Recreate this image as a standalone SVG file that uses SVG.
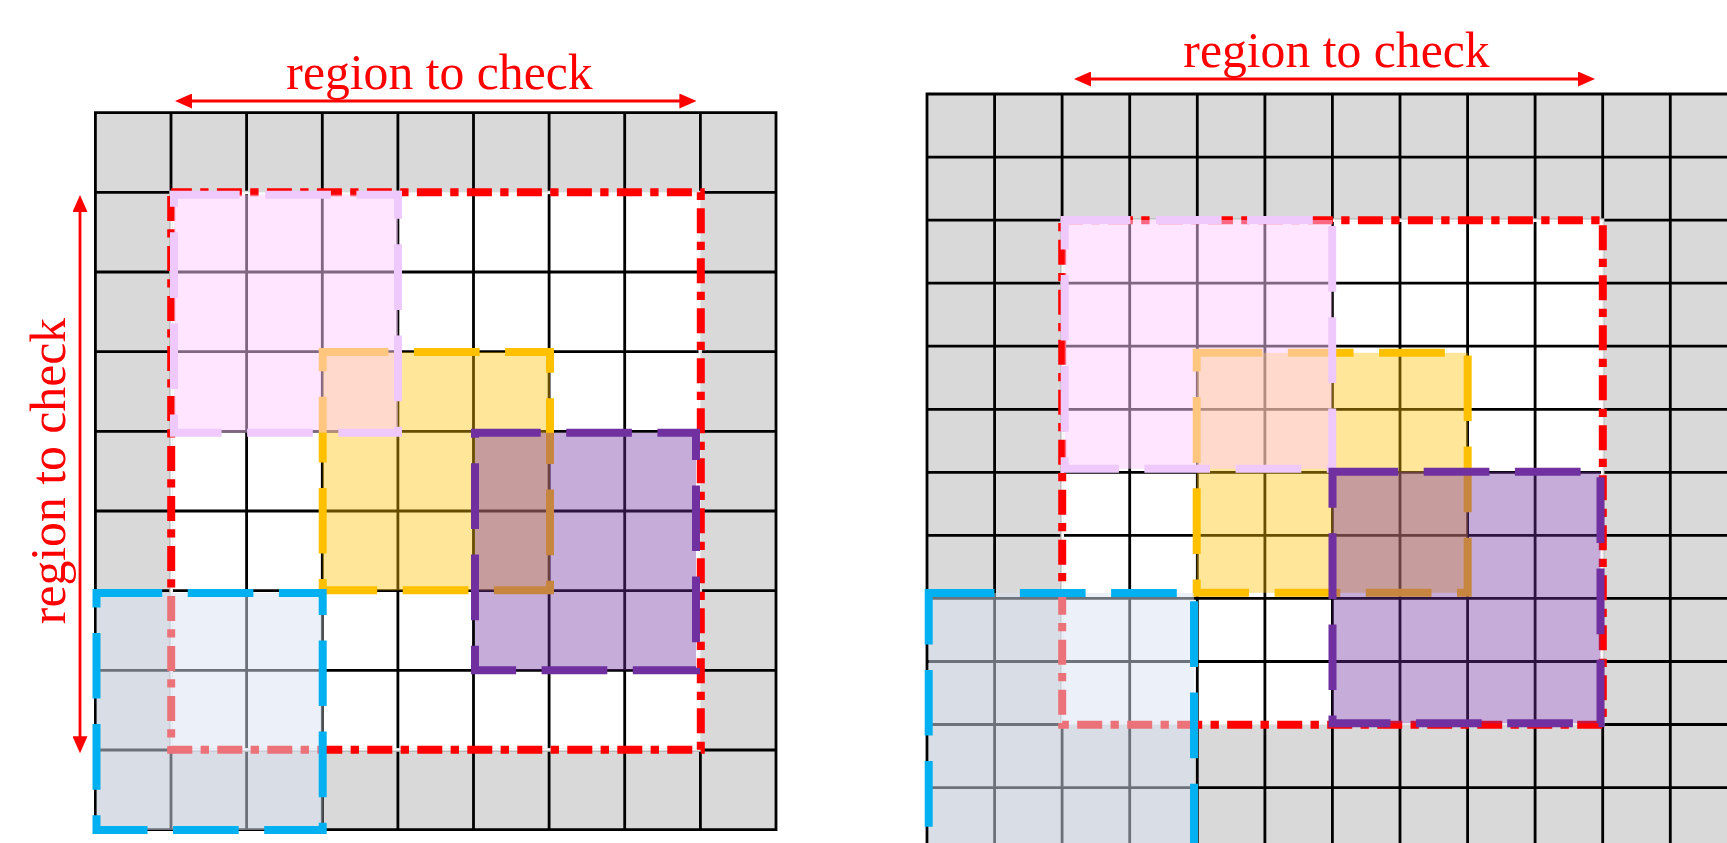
<svg xmlns="http://www.w3.org/2000/svg" width="1727" height="843" viewBox="0 0 1727 843">
  <style>
    .gray { fill: #D9D9D9; }
    .white { fill: #FFFFFF; }
    .gl { fill: none; stroke: #000; stroke-width: 2.8; stroke-linecap: square; }
    .hideA { fill: none; stroke: #D9D9D9; stroke-width: 3.4; }
    .hideB { fill: none; stroke: #FFFFFF; stroke-width: 1.7; }
    .red { fill: none; stroke: #FF0000; stroke-width: 8; stroke-dasharray: 25 8.33 8.33 8.34; stroke-dashoffset: 4.3; }
    .box { stroke-width: 8; stroke-dasharray: 65.7 25.5; }
    .yellow { fill: #FFC000; fill-opacity: 0.4; stroke: #FFC000; }
    .pink { fill: #FFCCFF; fill-opacity: 0.5; stroke: #EFC9FB; }
    .purple { fill: #7030A0; fill-opacity: 0.4; stroke: #7030A0; }
    .blue { fill: #DAE3F3; fill-opacity: 0.5; stroke: #00B0F0; }
    .lbl { font-family: "Liberation Serif", "Times New Roman", serif; font-size: 49.7px; fill: #FF0000; text-anchor: middle; }
    .arr { fill: none; stroke: #FF0000; stroke-width: 2.8; marker-start: url(#ah); marker-end: url(#ah); }
  </style>
  <defs>
    <marker id="ah" markerUnits="userSpaceOnUse" markerWidth="17" markerHeight="15" refX="7" refY="7.5" orient="auto-start-reverse">
      <path d="M0,0 L17,7.5 L0,15 z" fill="#FF0000"/>
    </marker>
  </defs>
  <rect width="1727" height="843" fill="#FFFFFF"/>

  <!-- Left grid -->
  <g id="grid-left">
    <rect class="gray" x="95.4" y="112.7" width="680.6" height="716.9"/>
    <rect class="white" x="171" y="192.4" width="529.4" height="557.6"/>
    <path class="gl" d="M95.4,112.7V829.6M171,112.7V829.6M246.6,112.7V829.6M322.3,112.7V829.6M397.9,112.7V829.6M473.5,112.7V829.6M549.1,112.7V829.6M624.7,112.7V829.6M700.4,112.7V829.6M776,112.7V829.6
      M95.4,112.7H776M95.4,192.4H776M95.4,272H776M95.4,351.7H776M95.4,431.3H776M95.4,511H776M95.4,590.7H776M95.4,670.3H776M95.4,750H776M95.4,829.6H776"/>
    <rect class="hideA" x="171" y="192.4" width="529.4" height="557.6"/>
    <rect class="hideB" x="171.85" y="193.25" width="527.7" height="555.9"/>
  </g>

  <!-- Right grid -->
  <g id="grid-right">
    <rect class="gray" x="927" y="94" width="810.8" height="756.6"/>
    <rect class="white" x="1062.1" y="220.1" width="540.6" height="504.4"/>
    <path class="gl" d="M927,94V850.6M994.6,94V850.6M1062.1,94V850.6M1129.7,94V850.6M1197.3,94V850.6M1264.9,94V850.6M1332.4,94V850.6M1400,94V850.6M1467.6,94V850.6M1535.1,94V850.6M1602.7,94V850.6M1670.3,94V850.6
      M927,94H1737.8M927,157.1H1737.8M927,220.1H1737.8M927,283.2H1737.8M927,346.2H1737.8M927,409.3H1737.8M927,472.3H1737.8M927,535.4H1737.8M927,598.4H1737.8M927,661.5H1737.8M927,724.5H1737.8M927,787.6H1737.8"/>
    <rect class="hideA" x="1062.1" y="220.1" width="540.6" height="504.4"/>
    <rect class="hideB" x="1062.95" y="220.95" width="538.9" height="502.7"/>
  </g>

  <!-- Left diagram regions -->
  <g id="left-red-region"><rect class="red" x="171.2" y="192.2" width="529.6" height="557.6"/></g>
  <g id="left-yellow"><rect class="box yellow" x="322.7" y="352" width="227.3" height="238.3"/></g>
  <g id="left-pink"><rect class="box pink" x="174" y="194.7" width="224" height="238"/></g>
  <g id="left-purple"><rect class="box purple" x="475" y="432.8" width="221" height="237.5"/></g>
  <g id="left-blue"><rect class="box blue" x="96.5" y="593" width="226.2" height="237"/></g>

  <!-- Right diagram regions -->
  <g id="right-red-region"><rect class="red" x="1062.2" y="220.2" width="540.6" height="504.5"/></g>
  <g id="right-yellow"><rect class="box yellow" x="1196.7" y="352.8" width="271" height="240"/></g>
  <g id="right-pink"><rect class="box pink" x="1064.7" y="220" width="267.5" height="248.8"/></g>
  <g id="right-purple"><rect class="box purple" x="1332.5" y="471.7" width="268" height="251.6"/></g>
  <g id="right-blue"><rect class="box blue" x="928.7" y="593" width="265.3" height="262"/></g>

  <!-- Connectors (dimension arrows) -->
  <g id="connectors">
    <line class="arr" x1="185" y1="101" x2="686.4" y2="101"/>
    <line class="arr" x1="80" y1="743.3" x2="80" y2="205"/>
    <line class="arr" x1="1084" y1="79" x2="1585" y2="79"/>
  </g>

  <!-- Labels -->
  <g id="labels">
    <text class="lbl" x="439.5" y="89">region to check</text>
    <text class="lbl" transform="translate(65.3,471) rotate(-90)">region to check</text>
    <text class="lbl" x="1336.5" y="66.7">region to check</text>
  </g>
</svg>
